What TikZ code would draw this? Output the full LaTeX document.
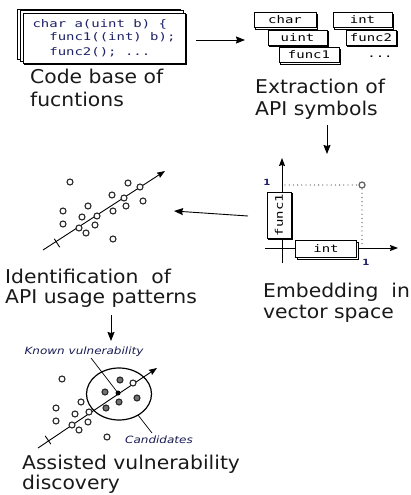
\documentclass[tikz,border=0pt]{standalone}
\usepackage{fontspec}
\setmainfont{DejaVu Sans}
\newfontfamily\lblfont[FakeStretch=1.07]{DejaVu Sans}
\newfontfamily\codefont[FakeStretch=1.33]{DejaVu Sans Mono}
\newfontfamily\smlfont[FakeStretch=1.2]{DejaVu Sans}
\usetikzlibrary{arrows.meta,shadows,backgrounds,shapes.geometric}
\definecolor{codeblue}{HTML}{1E2266}
\begin{document}
\begin{tikzpicture}[x=1pt,y=-1pt,
  lbl/.style={font=\lblfont\fontsize{19}{#1}\selectfont, align=left, inner sep=0pt, anchor=base west, text=black!90},
  lbl/.default=21,
  box/.style={draw, fill=white, line width=0.8pt, inner sep=0pt,
     general shadow={draw, fill=white, line width=0.8pt, shadow xshift=1.5pt, shadow yshift=-1.5pt}},
  symbox/.style={box, font=\codefont\fontsize{10.5}{12}\selectfont, minimum height=15pt},
  arr/.style={line width=0.9pt, -{Stealth[length=9pt,width=7pt,inset=1pt]}},
  axis/.style={line width=0.9pt, -{Stealth[length=8pt,width=6pt,inset=1pt]}},
  pt/.style={circle, draw=black!85, fill=white, line width=1.1pt, minimum size=6pt, inner sep=0pt},
  fpt/.style={pt, fill=black!55},
  tick/.style={line width=0.9pt},
  dots/.style={line width=1.3pt, black!65, line cap=round, dash pattern=on 0pt off 4.2pt},
  sml/.style={font=\smlfont\itshape\fontsize{10}{12}\selectfont, text=codeblue!80!black, inner sep=0pt},
  one/.style={font=\smlfont\bfseries\fontsize{8.5}{9}\selectfont, text=codeblue, inner sep=0pt}
]
\useasboundingbox (0,0) rectangle (411,495);

% --- code base
\node[box, minimum width=162pt, minimum height=50pt, align=left,
      font=\codefont\fontsize{10.5}{15}\selectfont, text=codeblue] (code) at (104,38)
  {\raisebox{-2pt}{char a(uint b) \{}\\\phantom{xx}func1((int) b);\\\phantom{xx}func2(); ...};
\begin{scope}[on background layer]
  \draw[line width=0.8pt, fill=white] ([shift={(-5,-3.5)}]code.north west) rectangle ([shift={(-5,-3.5)}]code.south east);
  \draw[line width=0.8pt, fill=white] ([shift={(-2.5,-1.8)}]code.north west) rectangle ([shift={(-2.5,-1.8)}]code.south east);
\end{scope}
\node[lbl=22] (codelbl) at (30,106) {Code base of\\fucntions};

% --- API symbols
\node[symbox, minimum width=62pt] (char) at (285,20) {char};
\node[symbox, minimum width=59pt] (uint) at (297.5,37.5) {uint};
\node[symbox, minimum width=60pt] (func1) at (309,55) {func1};
\node[symbox, minimum width=59pt] (int) at (362.5,20) {int};
\node[symbox, minimum width=50pt] (func2) at (371,37.5) {func2};
\node[font=\codefont\fontsize{10.5}{12}\selectfont, inner sep=0pt] (dots) at (380,57) {...};
\node[lbl=22] (extlbl) at (255,115) {Extraction of\\API symbols};

% --- embedding
\draw[axis] (282,263) -- (282,158);
\draw[axis] (265,248) -- (398,248);
\draw[dots] (285,185) -- (359,185);
\draw[dots] (362,189) -- (362,246);
\node[circle, draw=black!60, fill=white, line width=1.3pt, minimum size=6pt, inner sep=0pt] (vec) at (362,185) {};
\node[symbox, minimum width=46pt, minimum height=24pt, rotate=90] (vfunc) at (279,215) {func1};
\node[symbox, minimum width=61pt, minimum height=17pt] (vint) at (326,249) {int};
\node[one] (o1) at (267,182) {1};
\node[one] (o2) at (366,262) {1};
\node[lbl=21] (emblbl) at (263,318) {Embedding\ \ in\\vector space};

% --- API usage patterns
\draw[axis] (43,250) -- (165,171);
\draw[tick] (57,243) ++(-2.7,-4.2) -- ++(5.4,8.4);
\foreach \p [count=\i] in {(70,182),(128,183),(140,187),(112,195),(124,198),(143,201),(88,206),(126,206),(63,211),(113,211),(82,217),(97,216),(63,224),(95,225),(79,228),(86,233),(113,239)}
  \node[pt] (p\i) at \p {};
\node[lbl=20] (idlbl) at (5,303) {Identification\ \ of\\API usage patterns};

% --- assisted discovery
\draw[axis] (38,448) -- (157,368);
\draw[tick] (48,440) ++(-2.8,-4.1) -- ++(5.6,8.2);
\node[ellipse, draw, line width=1.2pt, minimum width=65pt, minimum height=52pt, inner sep=0pt] (area) at (119,394) {};
\foreach \p [count=\i] in {(62,379),(81,402),(56,408),(89,412),(75,414),(56,421),(72,425),(88,422),(79,430),(107,437),(133,383)}
  \node[pt] (q\i) at \p {};
\foreach \p [count=\i] in {(120,380),(105,392),(137,398),(119,402),(106,408)}
  \node[fpt] (r\i) at \p {};
\node[circle, fill=black, minimum size=5pt, inner sep=0pt] (known) at (118,393) {};
\node[sml] (knownlbl) at (84,352) {Known vulnerability};
\node[sml] (candlbl) at (159,440) {Candidates};
\coordinate (k1) at (91,358);
\draw[line width=0.7pt] (k1) -- (known);
\coordinate (c1) at (138,415);
\coordinate (c2) at (152,433);
\draw[line width=0.7pt] (c1) -- (c2);
\node[lbl=17] (asslbl) at (22,489) {Assisted vulnerability\\discovery};

% --- flow arrows
\coordinate (a1s) at (196,40); \coordinate (a1e) at (245,40);
\draw[arr] (a1s) -- (a1e);
\coordinate (a2s) at (327,125); \coordinate (a2e) at (327,154);
\draw[arr] (a2s) -- (a2e);
\coordinate (a3s) at (248,216); \coordinate (a3e) at (174,211);
\draw[arr] (a3s) -- (a3e);
\coordinate (a4s) at (111,315); \coordinate (a4e) at (111,341);
\draw[arr] (a4s) -- (a4e);
\end{tikzpicture}
\end{document}
